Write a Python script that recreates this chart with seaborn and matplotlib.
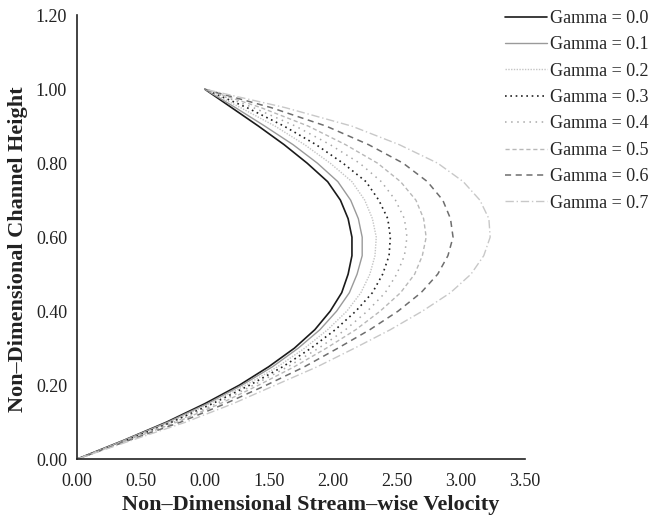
import numpy as np
import pandas as pd
import matplotlib
matplotlib.use("Agg")
import matplotlib.pyplot as plt
import seaborn as sns

# ---- data ----
heights = [0.0, 0.05, 0.10, 0.15, 0.20, 0.25, 0.30, 0.35, 0.40, 0.45, 0.50,
           0.55, 0.60, 0.65, 0.70, 0.75, 0.80, 0.85, 0.90, 0.95, 1.0]

gamma_00 = [0.00, 0.36, 0.70, 1.00, 1.27, 1.50, 1.70, 1.86, 1.98, 2.07, 2.12,
            2.15, 2.15, 2.12, 2.06, 1.96, 1.80, 1.62, 1.42, 1.21, 1.00]
gamma_01 = [0.00, 0.36, 0.71, 1.02, 1.29, 1.53, 1.73, 1.90, 2.03, 2.13, 2.19,
            2.23, 2.23, 2.20, 2.14, 2.04, 1.88, 1.69, 1.47, 1.24, 1.00]
gamma_02 = [0.00, 0.37, 0.73, 1.04, 1.32, 1.57, 1.78, 1.96, 2.11, 2.22, 2.29,
            2.33, 2.34, 2.31, 2.25, 2.15, 1.98, 1.78, 1.55, 1.28, 1.00]
gamma_03 = [0.00, 0.38, 0.74, 1.06, 1.35, 1.61, 1.83, 2.02, 2.18, 2.31, 2.39,
            2.44, 2.45, 2.43, 2.36, 2.26, 2.08, 1.87, 1.62, 1.33, 1.00]
gamma_04 = [0.00, 0.38, 0.76, 1.09, 1.38, 1.65, 1.89, 2.10, 2.27, 2.41, 2.50,
            2.56, 2.58, 2.56, 2.49, 2.38, 2.21, 1.98, 1.71, 1.38, 1.00]
gamma_05 = [0.00, 0.39, 0.78, 1.12, 1.42, 1.70, 1.95, 2.18, 2.37, 2.53, 2.64,
            2.70, 2.73, 2.71, 2.65, 2.53, 2.35, 2.10, 1.81, 1.44, 1.00]
gamma_06 = [0.00, 0.40, 0.81, 1.16, 1.48, 1.78, 2.04, 2.29, 2.51, 2.69, 2.82,
            2.90, 2.94, 2.92, 2.86, 2.74, 2.55, 2.28, 1.95, 1.52, 1.00]
gamma_07 = [0.00, 0.42, 0.85, 1.22, 1.55, 1.88, 2.17, 2.45, 2.70, 2.92, 3.08,
            3.18, 3.23, 3.22, 3.15, 3.02, 2.82, 2.52, 2.15, 1.63, 1.00]

series_labels = ["Gamma = 0.0", "Gamma = 0.1", "Gamma = 0.2", "Gamma = 0.3",
                 "Gamma = 0.4", "Gamma = 0.5", "Gamma = 0.6", "Gamma = 0.7"]
series_values = [gamma_00, gamma_01, gamma_02, gamma_03,
                 gamma_04, gamma_05, gamma_06, gamma_07]

x_ticks = [0.0, 0.5, 1.0, 1.5, 2.0, 2.5, 3.0, 3.5]
x_tick_labels = ["0.00", "0.50", "0.00", "1.50", "2.00", "2.50", "3.00", "3.50"]
y_ticks = [0.0, 0.2, 0.4, 0.6, 0.8, 1.0, 1.2]
y_tick_labels = ["0.00", "0.20", "0.40", "0.60", "0.80", "1.00", "1.20"]

# ---- styles ----
styles = [
    dict(color="#1a1a1a", linestyle="-", linewidth=1.2),
    dict(color="#9a9a9a", linestyle="-", linewidth=1.0),
    dict(color="#c4c4c4", linestyle=(0, (1, 1)), linewidth=1.0),
    dict(color="#222222", linestyle=(0, (1, 2.2)), linewidth=1.2),
    dict(color="#a8a8a8", linestyle=(0, (1, 3)), linewidth=1.1),
    dict(color="#b8b8b8", linestyle=(0, (3, 2)), linewidth=1.0),
    dict(color="#6e6e6e", linestyle=(0, (4, 3)), linewidth=1.1),
    dict(color="#c8c8c8", linestyle=(0, (6, 2, 1, 2)), linewidth=1.0),
]

sns.set_theme(style="white")
plt.rcParams["font.family"] = ["Liberation Serif", "DejaVu Serif"]

fig = plt.figure(figsize=(6.51, 5.23), dpi=100)
ax = fig.add_axes([0.118, 0.122, 0.688, 0.849])

for lab, vals, st in zip(series_labels, series_values, styles):
    df = pd.DataFrame({"velocity": vals, "height": heights})
    sns.lineplot(data=df, x="velocity", y="height", orient="y", sort=False,
                 estimator=None, ax=ax, label=lab, **st)

ax.set_xlim(0, 3.5)
ax.set_ylim(0, 1.2)
ax.set_xticks(x_ticks)
ax.set_xticklabels(x_tick_labels)
ax.set_yticks(y_ticks)
ax.set_yticklabels(y_tick_labels)

for s in ["top", "right"]:
    ax.spines[s].set_visible(False)
for s in ["left", "bottom"]:
    ax.spines[s].set_color("#222222")
    ax.spines[s].set_linewidth(1.2)

ax.tick_params(axis="x", direction="inout", length=6, width=0.8, color="#666666",
               labelsize=13, labelcolor="#222222", pad=7)
ax.tick_params(axis="y", direction="out", length=4, width=1.0, color="#222222",
               labelsize=13, labelcolor="#222222", pad=3)
ax.grid(False)

ax.set_xlabel("Non–Dimensional Stream–wise Velocity", fontsize=16,
              fontweight="bold", color="#222222")
ax.set_ylabel("Non–Dimensional Channel Height", fontsize=16,
              fontweight="bold", color="#222222")
ax.xaxis.set_label_coords(0.522, -0.104)
ax.yaxis.set_label_coords(-0.132, 0.473)
ax.xaxis.label.set_verticalalignment("center")
ax.yaxis.label.set_verticalalignment("center")

ax.legend(loc="upper left", bbox_to_anchor=(0.776, 0.981),
          bbox_transform=fig.transFigure, frameon=False, fontsize=13,
          handlelength=2.3, handletextpad=0.2, labelspacing=0.52,
          borderpad=0, borderaxespad=0)

fig.savefig("out.png", dpi=100)
